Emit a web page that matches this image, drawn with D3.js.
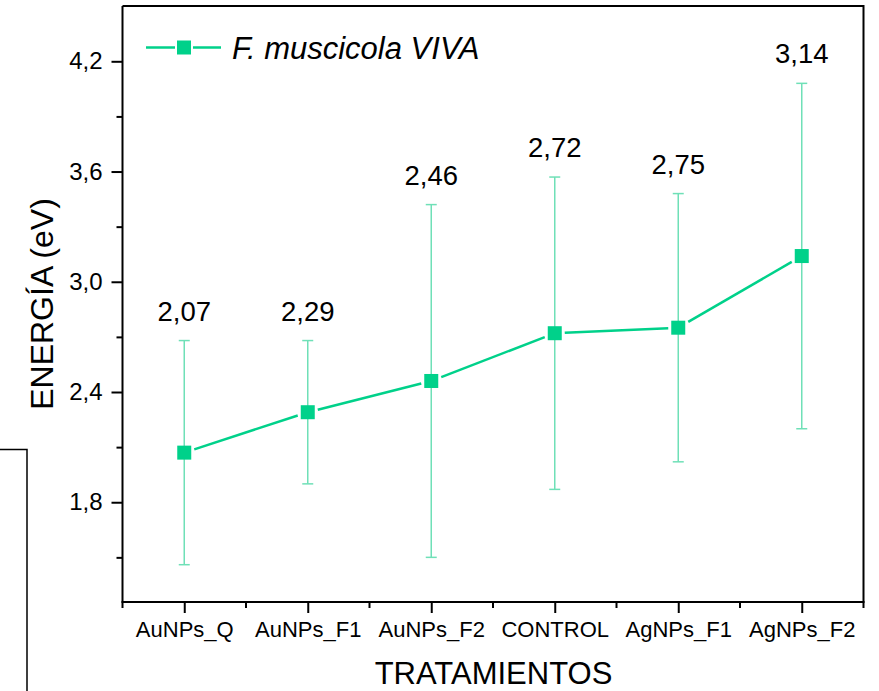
<!DOCTYPE html>
<html>
<head>
<meta charset="utf-8">
<script src="https://cdn.jsdelivr.net/npm/d3@7"></script>
<style>
  html, body { margin: 0; padding: 0; background: #fff; }
  svg { display: block; font-family: "Liberation Sans", Arial, sans-serif; }
</style>
</head>
<body>
<svg id="chart" width="879" height="691"></svg>
<script>
// Treatments along the x axis
const categories = ["AuNPs_Q", "AuNPs_F1", "AuNPs_F2", "CONTROL", "AgNPs_F1", "AgNPs_F2"];
// Mean band-gap energy (eV) per treatment
const energy = [2.07, 2.29, 2.46, 2.72, 2.75, 3.14];
// Standard deviation (eV) per treatment
const energyErr = [0.61, 0.39, 0.96, 0.85, 0.73, 0.94];
// Value labels shown above each point
const valueLabels = ["2,07", "2,29", "2,46", "2,72", "2,75", "3,14"];
// Y axis ticks
const yMajorTicks = [1.8, 2.4, 3.0, 3.6, 4.2];
const yMinorTicks = [1.5, 2.1, 2.7, 3.3, 3.9];
const yTickLabels = ["1,8", "2,4", "3,0", "3,6", "4,2"];
const seriesName = "F. muscicola VIVA";

const FONT = "'Liberation Sans', Arial, sans-serif";
const lineColor = "#00d18a";
const errColor = "#6fe0b7";

const svg = d3.select("#chart");
const plot = { left: 122.5, right: 863.5, top: 6, bottom: 602 };

const x = d3.scalePoint().domain(categories).range([plot.left, plot.right]).padding(0.5);
const y = d3.scaleLinear().domain([1.257, 4.501]).range([plot.bottom, plot.top]);

// stray frame segment at the lower left
svg.append("path")
  .attr("d", d3.line()([[0, 449.5], [27, 449.5], [27, 691]]))
  .attr("fill", "none").attr("stroke", "#000").attr("stroke-width", 1.5);

// frame top and right
svg.append("path")
  .attr("d", d3.line()([[plot.left, plot.top], [plot.right, plot.top], [plot.right, plot.bottom]]))
  .attr("fill", "none").attr("stroke", "#000").attr("stroke-width", 2);

// Y axis: major ticks with labels
const yAxis = d3.axisLeft(y).tickValues(yMajorTicks).tickSize(11).tickPadding(9)
  .tickFormat((d, i) => yTickLabels[i]);
const gy = svg.append("g").attr("transform", `translate(${plot.left},0)`).call(yAxis);
gy.select(".domain").attr("stroke-width", 2).attr("d", `M0,${plot.top}V${plot.bottom}`);
gy.selectAll(".tick line").attr("stroke-width", 2);
gy.selectAll(".tick text").attr("font-size", 24).attr("fill", "#000")
  .attr("font-family", FONT);
// Y minor ticks
svg.append("g").attr("transform", `translate(${plot.left},0)`)
  .call(d3.axisLeft(y).tickValues(yMinorTicks).tickSize(6).tickFormat(""))
  .call(g => g.select(".domain").remove())
  .selectAll(".tick line").attr("stroke-width", 2);

// X axis: major ticks at categories
const xAxis = d3.axisBottom(x).tickSize(11).tickPadding(8);
const gx = svg.append("g").attr("transform", `translate(0,${plot.bottom})`).call(xAxis);
gx.select(".domain").attr("stroke-width", 2).attr("d", `M${plot.left - 1},0H${plot.right + 1}`);
gx.selectAll(".tick line").attr("stroke-width", 2);
gx.selectAll(".tick text").attr("font-size", 22).attr("fill", "#000")
  .attr("font-family", FONT);
// X minor ticks between and at the ends of categories
const step = x.step();
const xMinor = [x(categories[0]) - step / 2].concat(categories.map(c => x(c) + step / 2));
svg.append("g").attr("transform", `translate(0,${plot.bottom})`)
  .selectAll("line").data(xMinor).join("line")
  .attr("x1", d => d).attr("x2", d => d).attr("y1", 0).attr("y2", 6)
  .attr("stroke", "#000").attr("stroke-width", 2);

// Axis titles
svg.append("text").attr("x", (plot.left + plot.right) / 2 + 0.5).attr("y", 684)
  .attr("text-anchor", "middle").attr("font-size", 31).attr("font-family", FONT)
  .text("TRATAMIENTOS");
svg.append("text")
  .attr("transform", `translate(53,${(plot.top + plot.bottom) / 2}) rotate(-90)`)
  .attr("text-anchor", "middle").attr("font-size", 32).attr("font-family", FONT)
  .text("ENERGÍA (eV)");

const data = categories.map((c, i) => ({ c, v: energy[i], e: energyErr[i], label: valueLabels[i] }));

// Error bars
const eb = svg.append("g").attr("stroke", errColor).attr("stroke-width", 1.5);
data.forEach(d => {
  const cx = x(d.c), yt = y(d.v + d.e), yb = y(d.v - d.e);
  eb.append("line").attr("x1", cx).attr("x2", cx).attr("y1", yt).attr("y2", yb);
  eb.append("line").attr("x1", cx - 5.5).attr("x2", cx + 5.5).attr("y1", yt).attr("y2", yt);
  eb.append("line").attr("x1", cx - 5.5).attr("x2", cx + 5.5).attr("y1", yb).attr("y2", yb);
});

// Connecting line, broken just short of each marker
const half = 7, gap = 3;
const segs = [];
for (let i = 0; i < data.length - 1; i++) {
  const x0 = x(data[i].c), y0 = y(data[i].v), x1 = x(data[i + 1].c), y1 = y(data[i + 1].v);
  const dx = x1 - x0, dy = y1 - y0;
  const t = Math.min((half + gap) / Math.max(Math.abs(dx), Math.abs(dy)), 0.45);
  segs.push([[x0 + dx * t, y0 + dy * t], [x1 - dx * t, y1 - dy * t]]);
}
svg.append("g").selectAll("path").data(segs).join("path")
  .attr("d", d => d3.line()(d)).attr("fill", "none")
  .attr("stroke", lineColor).attr("stroke-width", 2.5);

// Markers
svg.append("g").selectAll("rect").data(data).join("rect")
  .attr("x", d => x(d.c) - half).attr("y", d => y(d.v) - half)
  .attr("width", half * 2).attr("height", half * 2).attr("fill", lineColor);

// Value labels
svg.append("g").selectAll("text").data(data).join("text")
  .attr("x", d => x(d.c)).attr("y", d => y(d.v + d.e) - 20)
  .attr("text-anchor", "middle").attr("font-size", 27.5).attr("font-family", FONT)
  .attr("fill", "#000").text(d => d.label);

// Legend
const lg = svg.append("g");
lg.append("line").attr("x1", 146).attr("x2", 175).attr("y1", 47.5).attr("y2", 47.5)
  .attr("stroke", lineColor).attr("stroke-width", 2.5);
lg.append("line").attr("x1", 193).attr("x2", 221).attr("y1", 47.5).attr("y2", 47.5)
  .attr("stroke", lineColor).attr("stroke-width", 2.5);
lg.append("rect").attr("x", 184 - half).attr("y", 47.5 - half)
  .attr("width", half * 2).attr("height", half * 2).attr("fill", lineColor);
lg.append("text").attr("x", 232).attr("y", 59).attr("font-size", 31)
  .attr("font-family", FONT).attr("font-style", "italic").attr("fill", "#000")
  .text(seriesName);
</script>
</body>
</html>
